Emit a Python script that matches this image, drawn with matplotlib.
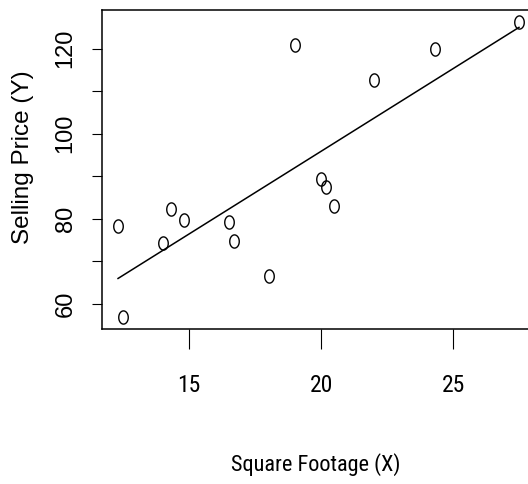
import numpy as np
import matplotlib
matplotlib.use("Agg")
import matplotlib.pyplot as plt
from matplotlib.path import Path

# data
sq_footage = [12.31, 12.50, 14.02, 14.31, 14.81, 16.50, 16.70, 18.02,
              19.01, 20.00, 20.20, 20.50, 22.00, 24.30, 27.49]
price = [78.4, 56.9, 74.4, 82.4, 79.8, 79.2, 74.75, 66.6,
         120.8, 89.4, 87.5, 83.1, 112.6, 119.9, 126.3]
x_ticks = [15, 20, 25]
y_ticks = [60, 70, 80, 90, 100, 110, 120]
y_ticklabels = ['60', '', '80', '', '100', '', '120']

x = np.array(sq_footage)
y = np.array(price)

# least squares fit, like abline(lm(y ~ x))
m, b = np.polyfit(x, y, 1)
x_line = np.array([x.min(), x.max()])
y_line = m * x_line + b

# open circle, a bit taller than wide (the reference is stretched vertically)
t = np.linspace(0, 2 * np.pi, 60)
ellipse = Path(np.column_stack([0.72 * np.cos(t), np.sin(t)]), closed=True)

narrow = ['Roboto Condensed', 'Liberation Sans']

fig = plt.figure(figsize=(5.28, 4.84), dpi=100)
left, bottom = 102 / 528, (484 - 329) / 484
width, height = (535 - 102) / 528, (329 - 10) / 484
ax = fig.add_axes([left, bottom, width, height])

ax.plot(x, y, linestyle='none', marker=ellipse, markersize=9.5,
        markerfacecolor='none', markeredgecolor='black', markeredgewidth=1.0)
ax.plot(x_line, y_line, color='black', linewidth=1.1)

# R style 4% padding on both axes
xr = x.max() - x.min()
yr = y.max() - y.min()
ax.set_xlim(x.min() - 0.04 * xr, x.max() + 0.04 * xr)
ax.set_ylim(y.min() - 0.04 * yr, y.max() + 0.04 * yr)

for s in ax.spines.values():
    s.set_linewidth(1.1)

ax.set_xticks(x_ticks)
ax.set_xticklabels([str(v) for v in x_ticks], family=narrow, fontsize=17)
ax.set_yticks(y_ticks)
ax.set_yticklabels(y_ticklabels, family='Liberation Sans', fontsize=17,
                   rotation=90, va='center')
ax.xaxis.set_tick_params(length=14.4, width=0.8, pad=18)
ax.yaxis.set_tick_params(length=7.2, width=0.8, pad=11)

ax.set_xlabel('Square Footage (X)', family=narrow, fontsize=16)
ax.xaxis.set_label_coords((315.5 - 102) / (535 - 102), -(465 - 329) / 319)
ax.set_ylabel('Selling Price (Y)', family='Liberation Sans', fontsize=17.5)
ax.yaxis.set_label_coords(-(102 - 23.5) / (535 - 102), (329 - 157) / 319)
ax.xaxis.label.set_va('center')
ax.yaxis.label.set_va('center')

fig.savefig('out.png', dpi=100)
